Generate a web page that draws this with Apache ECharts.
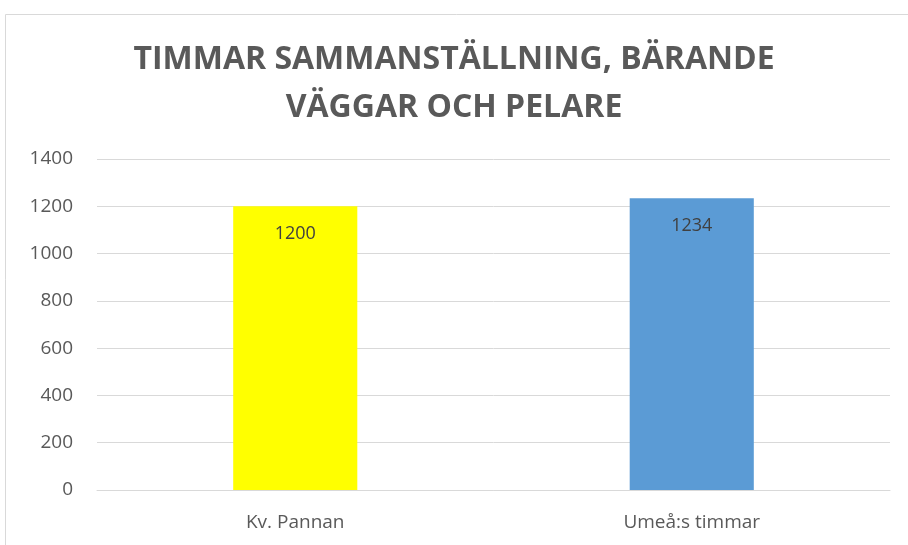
<!DOCTYPE html>
<html>
<head>
<meta charset="utf-8">
<script src="https://cdn.jsdelivr.net/npm/echarts@6/dist/echarts.min.js"></script>
<style>
	html, body { margin: 0; padding: 0; background: #fff; }
	#chart { width: 908px; height: 545px; }
</style>
</head>
<body>
<div id="chart"></div>
<script>
// data
const categories = ['Kv. Pannan', 'Umeå:s timmar'];
const hours = [1200, 1234];
const barColors = ['#FFFF00', '#5B9BD5'];
const titleText = 'TIMMAR SAMMANSTÄLLNING, BÄRANDE\nVÄGGAR OCH PELARE';

const font = 'Open Sans, sans-serif';
const chart = echarts.init(document.getElementById('chart'), null, { renderer: 'canvas' });

const option = {
	animation: false,
	title: {
		text: titleText,
		left: 'center',
		top: 31,
		textStyle: {
			fontFamily: font,
			fontWeight: 'bold',
			fontSize: 32,
			lineHeight: 48,
			color: '#595959',
		},
	},
	graphic: [
		{
			// yttre ram (bara vänster och topp syns)
			type: 'polyline',
			shape: { points: [[5.5, 545], [5.5, 14.5], [908, 14.5]] },
			style: { stroke: '#d9d9d9', lineWidth: 1, fill: null },
		},
	],
	grid: {
		left: 97,
		right: 18,
		top: 159,
		bottom: 55,
		containLabel: false,
	},
	xAxis: {
		type: 'category',
		data: categories,
		axisLine: { lineStyle: { color: '#d9d9d9', width: 1 } },
		axisTick: { show: false },
		axisLabel: {
			color: '#595959',
			fontSize: 19,
			fontFamily: font,
			margin: 23,
		},
	},
	yAxis: {
		type: 'value',
		min: 0,
		max: 1400,
		interval: 200,
		axisLine: { show: false },
		axisTick: { show: false },
		splitLine: { lineStyle: { color: '#d9d9d9', width: 1 } },
		axisLabel: {
			color: '#595959',
			fontSize: 19,
			fontFamily: font,
			margin: 24,
			formatter: (v) => String(v),
		},
	},
	series: [
		{
			type: 'bar',
			barWidth: '31.3%',
			data: hours.map((v, i) => ({ value: v, itemStyle: { color: barColors[i] } })),
			label: {
				show: true,
				position: 'insideTop',
				distance: 19,
				color: '#404040',
				fontSize: 18,
				fontFamily: font,
			},
		},
	],
};

chart.setOption(option);
</script>
</body>
</html>
